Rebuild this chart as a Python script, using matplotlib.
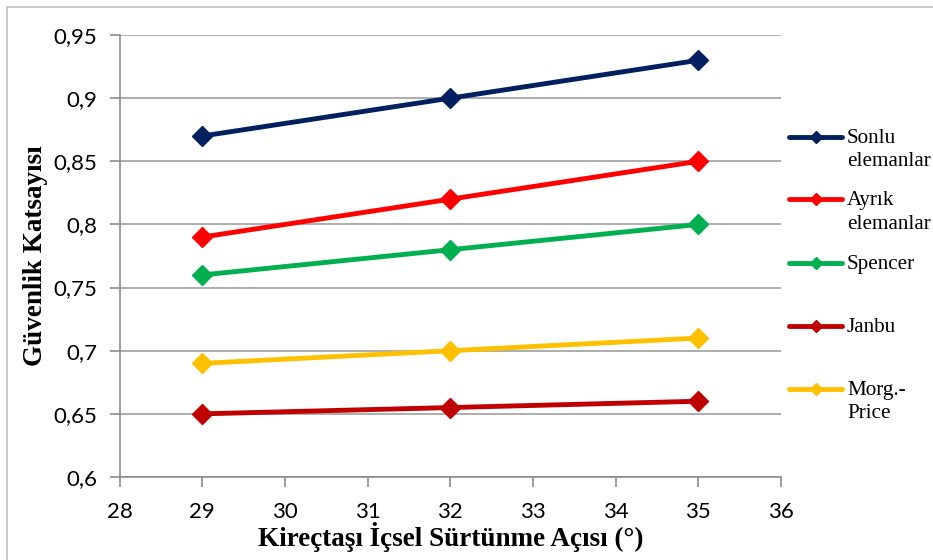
import matplotlib
matplotlib.use("Agg")
import matplotlib.pyplot as plt
from matplotlib.lines import Line2D
from matplotlib.patches import Rectangle
from matplotlib.ticker import FuncFormatter, MultipleLocator

# Data
angles = [29, 32, 35]
sonlu = [0.87, 0.90, 0.93]
ayrik = [0.79, 0.82, 0.85]
spencer = [0.76, 0.78, 0.80]
janbu = [0.65, 0.655, 0.66]
morg = [0.69, 0.70, 0.71]

series = [
    ("Sonlu\nelemanlar", sonlu, "#002060"),
    ("Ayrık\nelemanlar", ayrik, "#FF0000"),
    ("Spencer", spencer, "#00B050"),
    ("Janbu", janbu, "#C00000"),
    ("Morg.-\nPrice", morg, "#FFC000"),
]

W, H = 933, 560
fig = plt.figure(figsize=(W / 100, H / 100), dpi=100)
ax = fig.add_axes([119.7 / W, 1 - 477 / H, (781 - 119.7) / W, (477 - 35) / H])

for label, vals, color in series:
    ax.plot(angles, vals, color=color, lw=3.5, marker="D", markersize=10,
            label=label, solid_capstyle="round")

ax.set_xlim(28, 36)
ax.set_ylim(0.6, 0.95)
ax.xaxis.set_major_locator(MultipleLocator(1))
ax.yaxis.set_major_locator(MultipleLocator(0.05))
ax.yaxis.set_major_formatter(FuncFormatter(lambda v, p: f"{v:.2f}".rstrip("0").replace(".", ",")))
ax.grid(axis="y", color="#a0a0a0", lw=1.2)
ax.set_axisbelow(True)

for side in ["top", "right"]:
    ax.spines[side].set_visible(False)
for side in ["left", "bottom"]:
    ax.spines[side].set_color("#8c8c8c")
    ax.spines[side].set_linewidth(1.2)

ax.tick_params(axis="both", direction="out", color="#8c8c8c", width=1.2, length=7,
               labelsize=16)
for lbl in ax.get_xticklabels() + ax.get_yticklabels():
    lbl.set_family("Lato")
ax.tick_params(axis="x", pad=11)
ax.tick_params(axis="y", pad=9)

ax.set_xlabel("Kireçtaşı İçsel Sürtünme Açısı (°)", family="Liberation Serif",
              fontweight="bold", fontsize=19.5, labelpad=0)
ax.set_ylabel("Güvenlik Katsayısı", family="Liberation Serif",
              fontweight="bold", fontsize=19.5, labelpad=4)

# legend drawn by hand, Excel style
leg_y = [136.5, 199, 262.5, 326, 388.5]
for (label, vals, color), y in zip(series, leg_y):
    yf = 1 - y / H
    fig.add_artist(Line2D([789 / W, 842 / W], [yf, yf], transform=fig.transFigure,
                          color=color, lw=3.5, solid_capstyle="round"))
    fig.add_artist(Line2D([815.5 / W], [yf], transform=fig.transFigure,
                          color=color, marker="D", markersize=6))
    fig.text(847 / W, 1 - (y - 7.5) / H, label, family="Liberation Serif",
             fontsize=15.2, va="top", ha="left", linespacing=1.3)

fig.patches.append(Rectangle((7 / W, -0.01), 1.0, 1 - 7 / H + 0.01,
                             transform=fig.transFigure, fill=False,
                             edgecolor="#c0c0c0", lw=1.2))

fig.savefig("out.png", dpi=100)
